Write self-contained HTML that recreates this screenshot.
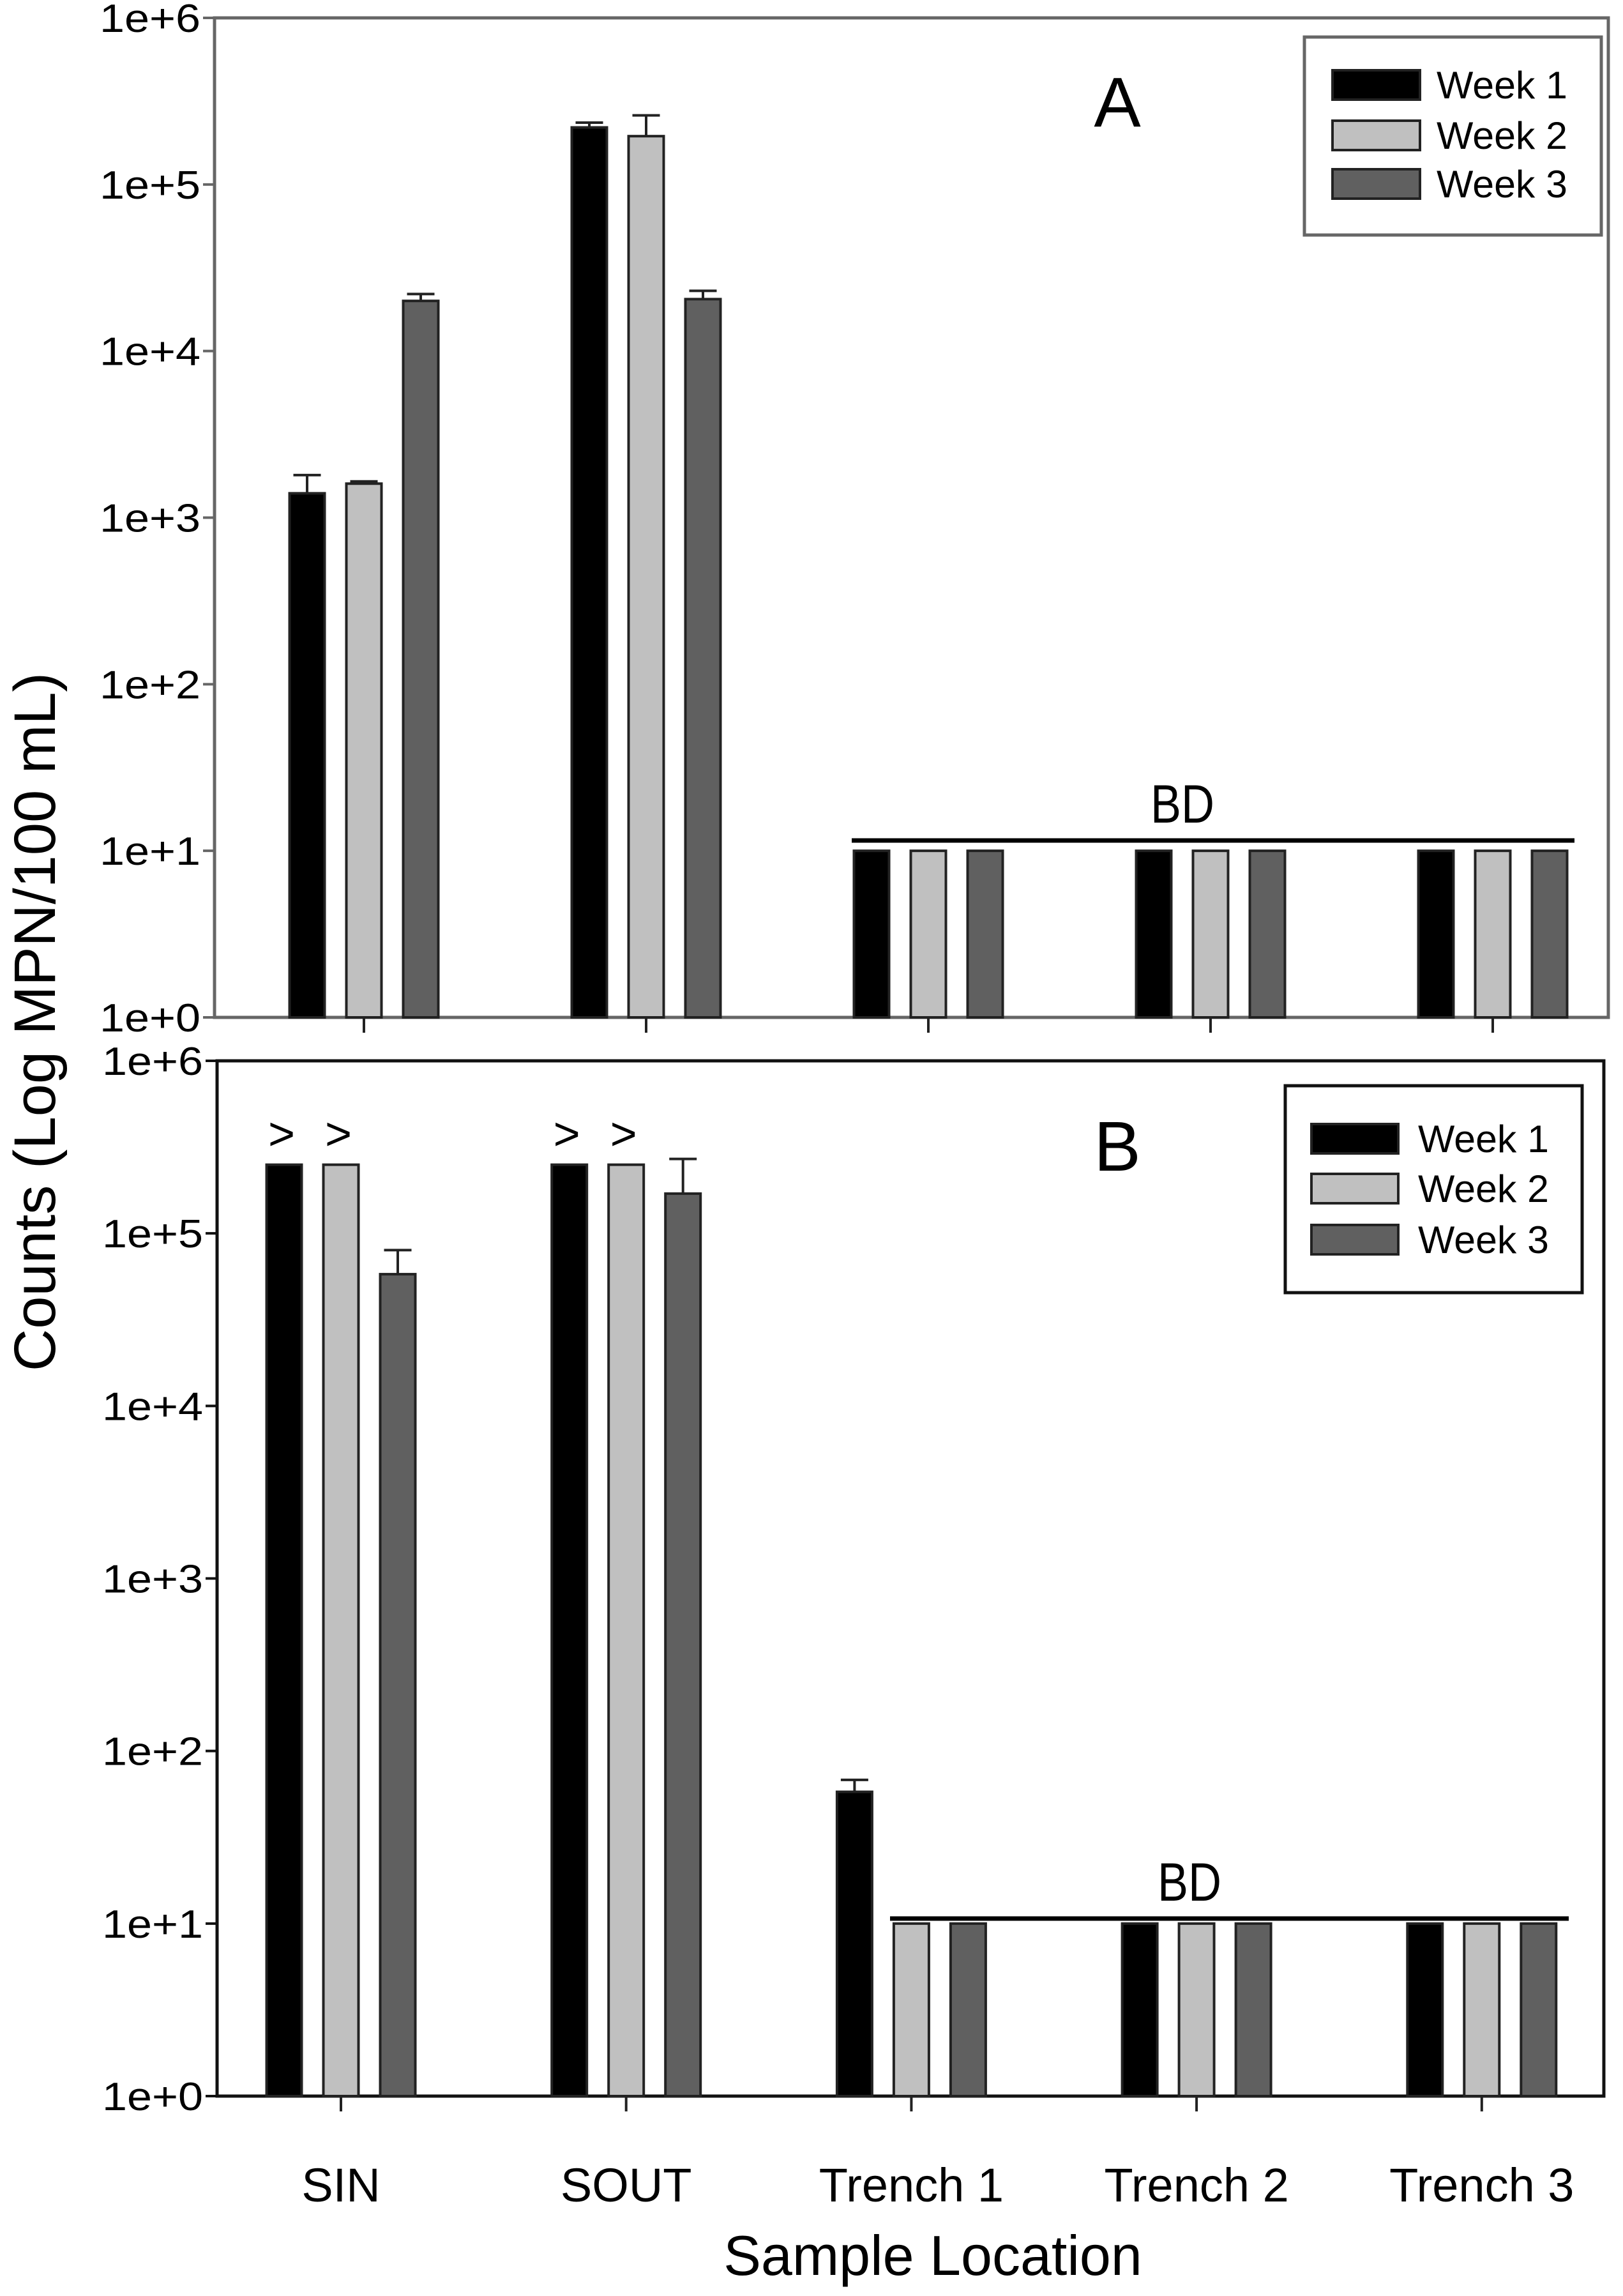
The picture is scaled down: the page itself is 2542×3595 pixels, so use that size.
<!DOCTYPE html>
<html><head><meta charset="utf-8">
<style>
html,body{margin:0;padding:0;background:#fff;}
svg{display:block;font-family:"Liberation Sans",Arial,sans-serif;}
</style></head>
<body>
<svg id="chart" width="2542" height="3595" viewBox="0 0 2542 3595" xmlns="http://www.w3.org/2000/svg">
<rect width="2542" height="3595" fill="#fff"/>
<text transform="translate(86,1600) rotate(-90)" text-anchor="middle" font-size="92" fill="#000">Counts (Log MPN/100 mL)</text>
<text x="1461" y="3562" text-anchor="middle" font-size="88" fill="#000">Sample Location</text>
</svg>
<script>
const categories = ["SIN","SOUT","Trench 1","Trench 2","Trench 3"];
const seriesNames = ["Week 1","Week 2","Week 3"];
const seriesColors = ["#000000","#c0c0c0","#606060"];
const tickLabels = ["1e+0","1e+1","1e+2","1e+3","1e+4","1e+5","1e+6"];
// Panel A values (per series, per category)
const aWeek1 = [1400, 220000, 10, 10, 10];
const aWeek2 = [1600, 195000, 10, 10, 10];
const aWeek3 = [20000, 20500, 10, 10, 10];
const aErr1 = [1800, 235000, null, null, null];
const aErr2 = [1650, 260000, null, null, null];
const aErr3 = [22000, 23000, null, null, null];
// Panel B values
const bWeek1 = [250000, 250000, 58, 10, 10];
const bWeek2 = [250000, 250000, 10, 10, 10];
const bWeek3 = [58000, 170000, 10, 10, 10];
const bErr1 = [null, null, 68, null, null];
const bErr2 = [null, null, null, null, null];
const bErr3 = [80000, 270000, null, null, null];

const NS = "http://www.w3.org/2000/svg";
const svg = document.getElementById("chart");
function mk(tag, attrs, parent){
  const e = document.createElementNS(NS, tag);
  for (const k in attrs) e.setAttribute(k, attrs[k]);
  (parent||svg).appendChild(e);
  return e;
}

function panel(cfg){
  const g = mk("g", {});
  
  
  const y = v => cfg.bottom - (Math.log10(v) - 0) / 6 * (cfg.bottom - cfg.top);
  const x = i => cfg.x0 + i * cfg.step;
  const off = 89, bw = 55;
  const fr = mk("rect", {x:cfg.left, y:cfg.top, width:cfg.right-cfg.left, height:cfg.bottom-cfg.top, fill:"none", stroke:cfg.axisColor, "stroke-width":5}, g);
  
  
  tickLabels.forEach((t, k) => {
    const yy = y(Math.pow(10, k));
    const tk = mk("line", {x1:cfg.left-18, x2:cfg.left, y1:yy, y2:yy, stroke:cfg.axisColor, "stroke-width":4}, g);
    
    
    const tl = mk("text", {x:cfg.left-22, y:yy+22, "text-anchor":"end", "font-size":62, fill:"#000", "textLength":158, "lengthAdjust":"spacingAndGlyphs"}, g);
    tl.textContent = t;
    
    
  });
  categories.forEach((c, i) => {
    const tk = mk("line", {x1:x(i), x2:x(i), y1:cfg.bottom, y2:cfg.bottom+24, stroke:"#222", "stroke-width":4}, g);
    
    
    if (cfg.labels){
      const tl = mk("text", {x:x(i), y:3447, "text-anchor":"middle", "font-size":74, fill:"#000"}, g);
      tl.textContent = c;
      
      
    }
  });
  cfg.series.forEach((vals, s) => {
    vals.forEach((v, i) => {
      const cx = x(i) + (s-1)*off;
      const r = mk("rect", {x:cx-bw/2, y:y(v), width:bw, height:cfg.bottom-y(v), fill:seriesColors[s], stroke:"#222", "stroke-width":4}, g);
      
      
      const e = cfg.errs[s][i];
      if (e){
        const el = mk("path", {d:`M${cx},${y(v)} V${y(e)} M${cx-bw/2+6},${y(e)} H${cx+bw/2-6}`, stroke:"#222", "stroke-width":4, fill:"none"}, g);
        
        
      }
      if (cfg.gt && s < 2 && i < 2){
        const gt = mk("text", {x:cx-4, y:cfg.gtY, "text-anchor":"middle", "font-size":72, fill:"#000"}, g);
        gt.textContent = ">";
        
        
      }
    });
  });
  const bl = mk("line", {x1:cfg.bd.x1, x2:cfg.bd.x2, y1:cfg.bd.y, y2:cfg.bd.y, stroke:"#000", "stroke-width":7}, g);
  
  
  const bt = mk("text", {x:cfg.bd.tx, y:cfg.bd.y-28, "text-anchor":"middle", "font-size":84, fill:"#000", "textLength":100, "lengthAdjust":"spacingAndGlyphs"}, g);
  bt.textContent = "BD";
  
  
  const pl = mk("text", {x:1750, y:cfg.letterY, "text-anchor":"middle", "font-size":110, fill:"#000"}, g);
  pl.textContent = cfg.id;
  
  
  const L = cfg.legend;
  const lg = mk("g", {}, g);
  
  
  const lb = mk("rect", {x:L.x, y:L.y, width:L.w, height:L.h, fill:"#fff", stroke:cfg.axisColor, "stroke-width":5}, lg);
  
  
  seriesNames.forEach((n, s) => {
    const ry = L.rows[s];
    const sw = mk("rect", {x:L.sx, y:ry-23, width:L.sw, height:46, fill:seriesColors[s], stroke:"#222", "stroke-width":4}, lg);
    
    
    const t = mk("text", {x:L.tx, y:ry+21, "font-size":60, fill:"#000", "textLength":205, "lengthAdjust":"spacingAndGlyphs"}, lg);
    t.textContent = n;
    
    
  });
}

panel({id:"A", left:336, right:2519, top:28, bottom:1593, x0:570, step:442, axisColor:"#666",
  series:[aWeek1,aWeek2,aWeek3], errs:[aErr1,aErr2,aErr3], labels:false, gt:false,
  bd:{x1:1334, x2:2466, y:1316, tx:1852}, letterY:198,
  legend:{x:2043, y:58, w:465, h:310, sx:2087, sw:137, tx:2250, rows:[133,212,288]}});
panel({id:"B", left:340, right:2512, top:1661, bottom:3282, x0:534, step:446.7, axisColor:"#111",
  series:[bWeek1,bWeek2,bWeek3], errs:[bErr1,bErr2,bErr3], labels:true, gt:true, gtY:1800,
  bd:{x1:1394, x2:2457, y:3004, tx:1863}, letterY:1833,
  legend:{x:2013, y:1700, w:465, h:324, sx:2054, sw:136, tx:2221, rows:[1783,1861,1941]}});
</script>
</body></html>
